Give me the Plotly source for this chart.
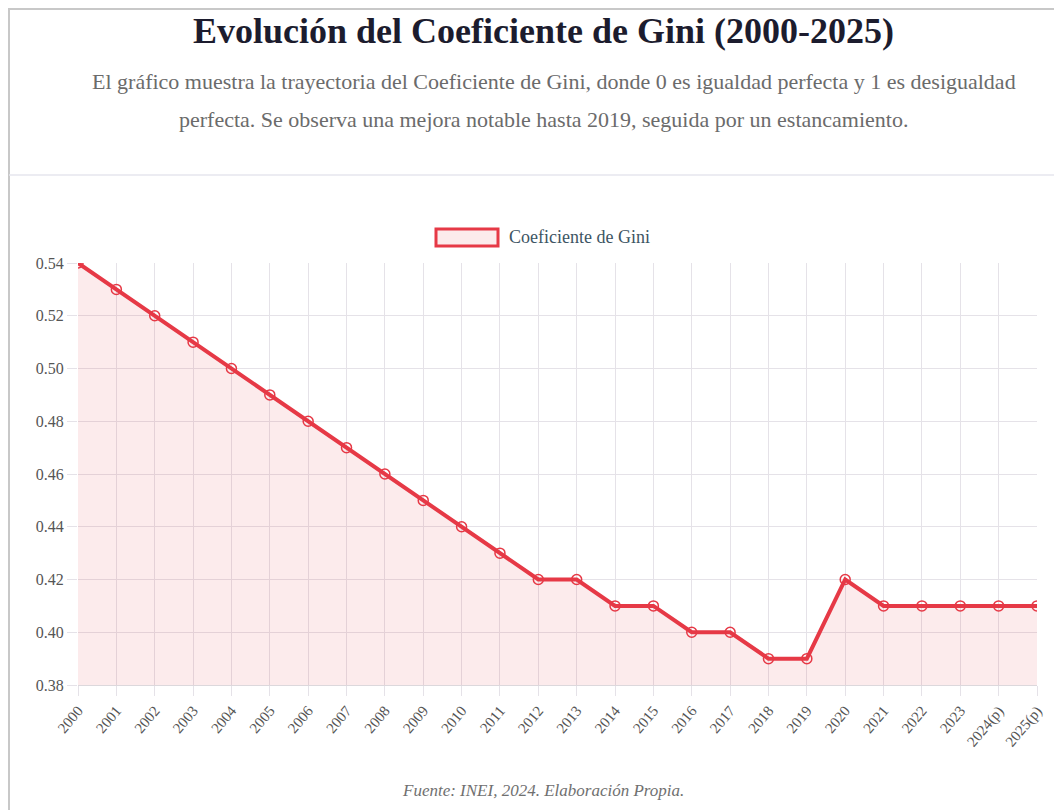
import plotly.graph_objects as go

years = ["2000", "2001", "2002", "2003", "2004", "2005", "2006", "2007", "2008", "2009",
         "2010", "2011", "2012", "2013", "2014", "2015", "2016", "2017", "2018", "2019",
         "2020", "2021", "2022", "2023", "2024(p)", "2025(p)"]
gini = [0.54, 0.53, 0.52, 0.51, 0.50, 0.49, 0.48, 0.47, 0.46, 0.45,
        0.44, 0.43, 0.42, 0.42, 0.41, 0.41, 0.40, 0.40, 0.39, 0.39,
        0.42, 0.41, 0.41, 0.41, 0.41, 0.41]
y_ticks = [0.38, 0.40, 0.42, 0.44, 0.46, 0.48, 0.50, 0.52, 0.54]

W, H = 1062, 810
OFF = 8  # page margin offset
L, R, T, B = 78 - OFF, W - (1037 - OFF), 263 - OFF, H - (685 - OFF)
PW, PH = W - L - R, H - T - B

def px(x):
    return (x - OFF - L) / PW

def py(y):
    return (H - B - (y - OFF)) / PH

RED = "#e63946"
SERIF = "Liberation Serif, Times New Roman, serif"

fig = go.Figure()
fig.add_trace(go.Scatter(
    x=years, y=gini, mode="lines+markers", name="Coeficiente de Gini",
    line=dict(color=RED, width=4),
    marker=dict(symbol="circle-open", size=10, color=RED, line=dict(width=1.5, color=RED)),
    fill="tozeroy", fillcolor="rgba(230,57,70,0.1)",
    showlegend=False,
))

shapes = [
    dict(type="line", xref="paper", yref="paper", x0=px(8), x1=px(1070), y0=py(9), y1=py(9),
         line=dict(color="#c8c8c8", width=2)),
    dict(type="line", xref="paper", yref="paper", x0=px(9), x1=px(9), y0=py(8), y1=py(820),
         line=dict(color="#c8c8c8", width=2)),
    dict(type="line", xref="paper", yref="paper", x0=px(9), x1=px(1070), y0=py(175), y1=py(175),
         line=dict(color="#e6e6ee", width=1.5)),
    dict(type="rect", xref="paper", yref="paper", x0=px(436), x1=px(498), y0=py(229), y1=py(246),
         line=dict(color=RED, width=3), fillcolor="rgba(230,57,70,0.1)"),
]

annotations = [
    dict(text="<b>Evolución del Coeficiente de Gini (2000-2025)</b>", xref="paper", yref="paper",
         x=px(543), y=py(31), showarrow=False, font=dict(family=SERIF, size=36, color="#1c1c2e"),
         xanchor="center", yanchor="middle"),
    dict(text="El gráfico muestra la trayectoria del Coeficiente de Gini, donde 0 es igualdad perfecta y 1 es desigualdad",
         xref="paper", yref="paper", x=px(554), y=py(81), showarrow=False,
         font=dict(family=SERIF, size=22, color="#6b6b6b"), xanchor="center", yanchor="middle"),
    dict(text="perfecta. Se observa una mejora notable hasta 2019, seguida por un estancamiento.",
         xref="paper", yref="paper", x=px(543), y=py(119), showarrow=False,
         font=dict(family=SERIF, size=22, color="#6b6b6b"), xanchor="center", yanchor="middle"),
    dict(text="Coeficiente de Gini", xref="paper", yref="paper", x=px(507), y=py(237),
         showarrow=False, font=dict(family=SERIF, size=18, color="#3d5563"),
         xanchor="left", yanchor="middle"),
    dict(text="<i>Fuente: INEI, 2024. Elaboración Propia.</i>", xref="paper", yref="paper",
         x=px(543), y=py(790), showarrow=False, font=dict(family=SERIF, size=17, color="#707070"),
         xanchor="center", yanchor="middle"),
]

fig.update_layout(
    width=W, height=H,
    margin=dict(l=L, r=R, t=T, b=B),
    paper_bgcolor="white", plot_bgcolor="white",
    shapes=shapes, annotations=annotations,
    font=dict(family=SERIF, color="#666666"),
)
fig.update_xaxes(
    type="category", range=[0, len(years) - 1],
    showgrid=True, gridcolor="#e5e2e8", gridwidth=1,
    ticks="outside", ticklen=10, tickcolor="#e5e2e8",
    tickangle=-50, tickfont=dict(family=SERIF, size=15, color="#555555"),
    showline=True, linecolor="#dcd8dc", linewidth=1, zeroline=False,
)
fig.update_yaxes(
    range=[0.38, 0.54], tickvals=y_ticks, tickformat=".2f",
    showgrid=True, gridcolor="#e5e2e8", gridwidth=1,
    ticks="outside", ticklen=10, tickcolor="#e5e2e8",
    tickfont=dict(family=SERIF, size=16, color="#555555"),
    showline=False, zeroline=False,
)

fig.write_html("out.html")
